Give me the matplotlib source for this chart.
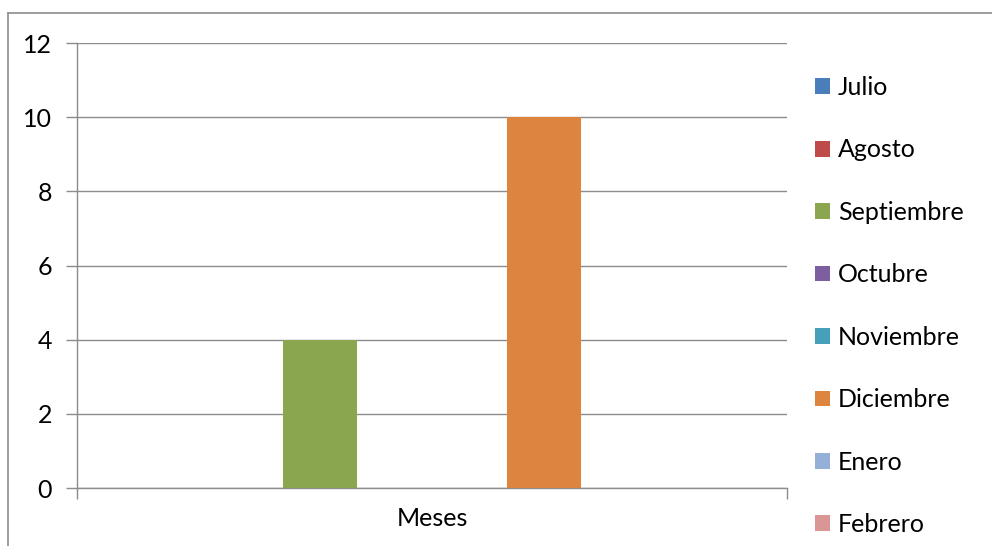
import matplotlib.pyplot as plt
from matplotlib.lines import Line2D
from matplotlib.patches import Patch

plt.rcParams['font.family'] = ['Lato', 'DejaVu Sans']

# data
months = ['Julio', 'Agosto', 'Septiembre', 'Octubre', 'Noviembre',
          'Diciembre', 'Enero', 'Febrero']
values = [0, 0, 4, 0, 0, 10, 0, 0]
colors = ['#4A7EBB', '#BE4B48', '#8AA64E', '#7D5FA0', '#46A0B9',
          '#DD843F', '#94B0D8', '#D99694']
category = 'Meses'
yticks = [0, 2, 4, 6, 8, 10, 12]

W, H = 992, 546
fig = plt.figure(figsize=(W / 100, H / 100), dpi=100)
ax = fig.add_axes([77 / W, 1 - 488 / H, (787 - 77) / W, (488 - 43) / H])

# excel-style clustered columns, gap width 150%
n = len(months)
slot = 1.0 / (n + 1.5)
for i, (m, v, c) in enumerate(zip(months, values, colors)):
    x = -0.5 + (0.75 + i + 0.5) * slot
    ax.bar(x, v, width=slot, color=c, label=m, zorder=3)

ax.set_xlim(-0.5, 0.5)
ax.set_ylim(0, 12)
ax.set_yticks(yticks)
ax.grid(axis='y', color='#8c8c8c', linewidth=1.0, zorder=0)

# category label at center, tick marks at the edges
ax.set_xticks([0])
ax.set_xticklabels([category])
ax.set_xticks([-0.5, 0.5], minor=True)
ax.tick_params(axis='x', which='major', length=0, pad=14, labelsize=18)
ax.tick_params(axis='x', which='minor', length=8, color='#8c8c8c', width=1)
ax.tick_params(axis='y', length=8, color='#8c8c8c', width=1, pad=10, labelsize=18)

for s in ['top', 'right']:
    ax.spines[s].set_visible(False)
for s in ['left', 'bottom']:
    ax.spines[s].set_color('#8c8c8c')
    ax.spines[s].set_linewidth(1.0)

handles = [Patch(facecolor=c, edgecolor='none') for c in colors]
fig.legend(handles, months, loc='upper left',
           bbox_to_anchor=(815 / W, 1 - 76 / H), frameon=False,
           fontsize=18, handlelength=0.6, handleheight=0.6,
           handletextpad=0.32, labelspacing=1.578, borderaxespad=0,
           borderpad=0)

# outer chart frame (cut off on the right and bottom)
fig.add_artist(Line2D([8 / W, 8 / W], [0, 1 - 13 / H], color='#8c8c8c',
                      linewidth=1.2, transform=fig.transFigure))
fig.add_artist(Line2D([8 / W, 1], [1 - 13 / H, 1 - 13 / H], color='#8c8c8c',
                      linewidth=1.2, transform=fig.transFigure))

fig.savefig('out.png', dpi=100)
